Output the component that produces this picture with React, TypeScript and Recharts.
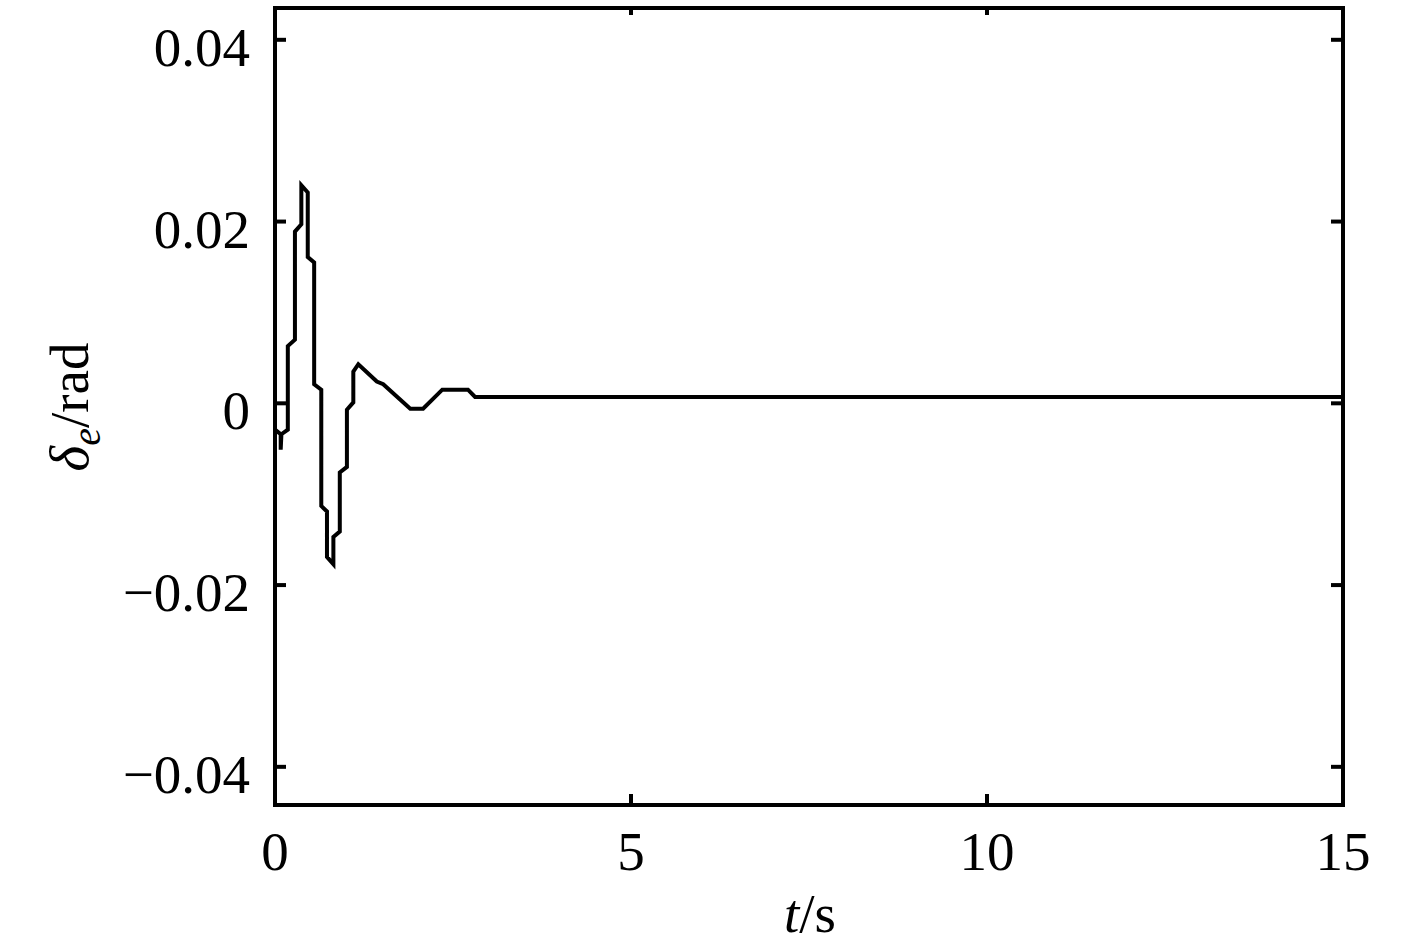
import React from 'react';
import { LineChart, Line, XAxis, YAxis, ReferenceArea } from 'recharts';

const timeS = [0, 0.08, 0.08, 0.09, 0.18, 0.18, 0.28, 0.28, 0.37, 0.37, 0.46, 0.46, 0.55, 0.55, 0.65, 0.65, 0.73, 0.73, 0.82, 0.82, 0.91, 0.91, 1.01, 1.01, 1.1, 1.1, 1.17, 1.43, 1.52, 1.9, 2.08, 2.35, 2.71, 2.81, 15];
const deltaE = [-0.0029, -0.0034, -0.0051, -0.0034, -0.0029, 0.0063, 0.007, 0.0189, 0.0197, 0.024, 0.0232, 0.0161, 0.0155, 0.0021, 0.0015, -0.0113, -0.0119, -0.0169, -0.0177, -0.0147, -0.0141, -0.0076, -0.007, -0.0007, 0.0001, 0.0035, 0.0043, 0.0024, 0.0021, -0.0006, -0.0006, 0.0015, 0.0015, 0.0007, 0.0007];
const xTicks = [0, 5, 10, 15];
const yTicks = [-0.04, -0.02, 0, 0.02, 0.04];
const xLabels = ['0', '5', '10', '15'];
const yLabels = ['\u22120.04', '\u22120.02', '0', '0.02', '0.04'];
const xDomain = [0, 15];
const yDomain = [-0.0442, 0.0435];

const data = timeS.map((t, i) => ({ t, v: deltaE[i] }));

const FONT = '"Liberation Serif", "Times New Roman", serif';
const FS = 55;
const PLOT_LEFT = 275;
const PLOT_RIGHT = 1343;
const PLOT_TOP = 8;
const PLOT_BOTTOM = 805;
const SW = 4;

const LeftTick = (props: any) => {
  const { y, payload } = props;
  const idx = yTicks.indexOf(payload.value);
  return (
    <g>
      <line x1={PLOT_LEFT} y1={y} x2={PLOT_LEFT + 11} y2={y} stroke="#000" strokeWidth={SW} />
      <text x={PLOT_LEFT - 25} y={y + 26} textAnchor="end" fontFamily={FONT} fontSize={FS} fill="#000">
        {idx >= 0 ? yLabels[idx] : String(payload.value)}
      </text>
    </g>
  );
};

const RightTick = (props: any) => {
  const { y } = props;
  return <line x1={PLOT_RIGHT} y1={y} x2={PLOT_RIGHT - 12} y2={y} stroke="#000" strokeWidth={SW} />;
};

const BottomTick = (props: any) => {
  const { x, payload } = props;
  const idx = xTicks.indexOf(payload.value);
  return (
    <g>
      <line x1={x} y1={PLOT_BOTTOM} x2={x} y2={PLOT_BOTTOM - 11} stroke="#000" strokeWidth={SW} />
      <text x={x} y={PLOT_BOTTOM + 65} textAnchor="middle" fontFamily={FONT} fontSize={FS} fill="#000">
        {idx >= 0 ? xLabels[idx] : String(payload.value)}
      </text>
    </g>
  );
};

const TopTick = (props: any) => {
  const { x } = props;
  return <line x1={x} y1={PLOT_TOP} x2={x} y2={PLOT_TOP + 7} stroke="#000" strokeWidth={SW} />;
};

export default function App() {
  return (
    <div style={{ position: 'absolute', left: 0, top: 0, background: '#fff' }}>
      <LineChart width={1417} height={945} data={data} margin={{ top: 7, right: 73, bottom: 0, left: 0 }}>
        <XAxis
          xAxisId="bottom"
          dataKey="t"
          type="number"
          domain={xDomain}
          ticks={xTicks}
          orientation="bottom"
          height={140}
          tickSize={0}
          tickMargin={0}
          tickLine={false}
          axisLine={false}
          tick={<BottomTick />}
          interval={0}
          allowDataOverflow
        />
        <XAxis
          xAxisId="top"
          dataKey="t"
          type="number"
          domain={xDomain}
          ticks={xTicks}
          orientation="top"
          height={1}
          tickSize={0}
          tickMargin={0}
          tickLine={false}
          axisLine={false}
          tick={<TopTick />}
          interval={0}
          allowDataOverflow
        />
        <YAxis
          yAxisId="left"
          type="number"
          domain={yDomain}
          ticks={yTicks}
          orientation="left"
          width={275}
          tickSize={0}
          tickMargin={0}
          tickLine={false}
          axisLine={false}
          tick={<LeftTick />}
          interval={0}
          allowDataOverflow
        />
        <YAxis
          yAxisId="right"
          type="number"
          domain={yDomain}
          ticks={yTicks}
          orientation="right"
          width={1}
          tickSize={0}
          tickMargin={0}
          tickLine={false}
          axisLine={false}
          tick={<RightTick />}
          interval={0}
          allowDataOverflow
        />
        <ReferenceArea
          xAxisId="bottom"
          yAxisId="left"
          x1={xDomain[0]}
          x2={xDomain[1]}
          y1={yDomain[0]}
          y2={yDomain[1]}
          fill="none"
          fillOpacity={0}
          stroke="#000"
          strokeWidth={SW}
          strokeOpacity={1}
          ifOverflow="visible"
        />
        <Line
          xAxisId="bottom"
          yAxisId="left"
          type="linear"
          dataKey="v"
          stroke="#000"
          strokeWidth={4}
          dot={false}
          activeDot={false}
          isAnimationActive={false}
        />
        <text x={88} y={407} transform="rotate(-90, 88, 407)" textAnchor="middle" fontFamily={FONT} fontSize={FS} fill="#000">
          <tspan fontStyle="italic">δ</tspan>
          <tspan fontStyle="italic" fontSize={40} dy={12}>e</tspan>
          <tspan dy={-12}>/rad</tspan>
        </text>
        <text x={810} y={932} textAnchor="middle" fontFamily={FONT} fontSize={FS} fill="#000">
          <tspan fontStyle="italic">t</tspan>
          <tspan>/s</tspan>
        </text>
      </LineChart>
    </div>
  );
}
